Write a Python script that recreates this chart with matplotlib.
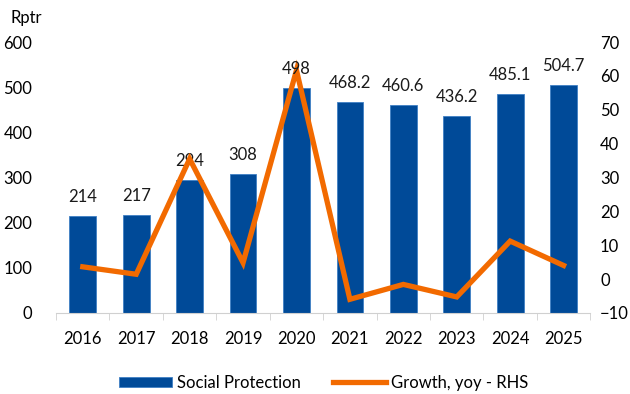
import matplotlib.pyplot as plt
import numpy as np

plt.rcParams['font.family'] = ['Lato', 'DejaVu Sans']

years = ['2016', '2017', '2018', '2019', '2020', '2021', '2022', '2023', '2024', '2025']
spending = [214, 217, 294, 308, 498, 468.2, 460.6, 436.2, 485.1, 504.7]
spending_labels = ['214', '217', '294', '308', '498', '468.2', '460.6', '436.2', '485.1', '504.7']
growth = [3.6, 1.4, 35.5, 4.8, 61.7, -6.0, -1.6, -5.3, 11.2, 4.0]

blue = '#004A98'
orange = '#F26A00'

fig = plt.figure(figsize=(6.3, 3.94), dpi=100)
ax = fig.add_axes([0.089, 0.206, 0.848, 0.687])
x = np.arange(len(years))

ax.bar(x, spending, width=0.5, color=blue, edgecolor='#3F7FC4', linewidth=0.6,
       label='Social Protection', zorder=2)

ax.set_xlim(-0.5, len(years) - 0.5)
ax.set_ylim(0, 600)
ax.set_yticks(range(0, 601, 100))
ax.set_xticks(x)
ax.set_xticklabels(years)
ax.set_xticks(np.arange(-0.5, len(years)), minor=True)
ax.tick_params(axis='x', which='major', length=0, pad=13, labelsize=12)
ax.tick_params(axis='x', which='minor', length=5, color='#d0d0d0')
ax.tick_params(axis='y', length=0, pad=17, labelsize=12)
for sp in ['top', 'right', 'left']:
    ax.spines[sp].set_visible(False)
ax.spines['bottom'].set_color('#d0d0d0')

ax2 = ax.twinx()
ax2.plot(x, growth, color=orange, linewidth=3.8, solid_joinstyle='miter',
         label='Growth, yoy - RHS', zorder=3)
ax2.set_ylim(-10, 70)
ax2.set_yticks(range(-10, 71, 10))
ax2.tick_params(axis='y', length=0, pad=7, labelsize=12)
for sp in ax2.spines.values():
    sp.set_visible(False)

# value labels; the 2018 one sits under the line, the rest on top
for xi, v, s in zip(x, spending, spending_labels):
    z = 2 if s == '294' else 4
    ax2.text(xi, v + 24, s, transform=ax.transData, ha='center', va='bottom',
             fontsize=12, color='#1a1a1a', zorder=z)

fig.text(0.016, 0.955, 'Rptr', fontsize=12, ha='left', va='center')

h1, l1 = ax.get_legend_handles_labels()
h2, l2 = ax2.get_legend_handles_labels()
fig.legend(h1 + h2, l1 + l2, loc='center', bbox_to_anchor=(0.514, 0.028), ncol=2,
           frameon=False, fontsize=12, handlelength=3.2, handleheight=0.6,
           columnspacing=1.9, handletextpad=0.3)

fig.savefig('out.png', dpi=100)
